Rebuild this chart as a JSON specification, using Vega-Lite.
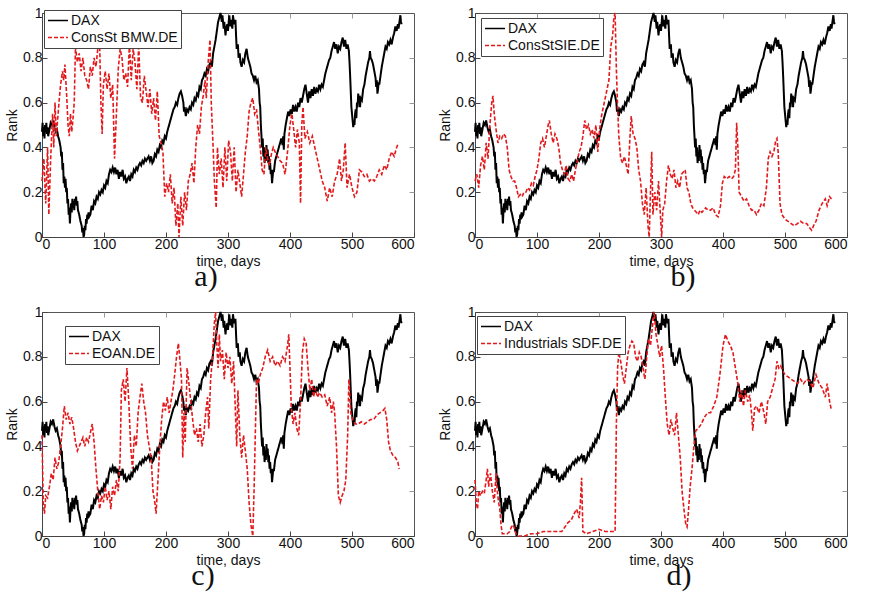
{
  "$schema": "https://vega.github.io/schema/vega-lite/v6.json",
  "padding": {"left": 5, "top": 5, "right": 5, "bottom": 5},
  "background": "white",
  "config": {
    "view": {"stroke": "#555", "strokeWidth": 1},
    "font": "Liberation Sans",
    "axis": {"labelFont": "Liberation Sans", "labelFontSize": 14, "labelColor": "#111", "titleFont": "Liberation Sans", "titleFontSize": 14, "titleFontWeight": "normal", "titleColor": "#111", "grid": false, "domainColor": "#444", "tickColor": "#444", "tickSize": -5, "labelPadding": 5},
    "legend": {"title": null, "orient": "none", "symbolType": "stroke", "symbolSize": 400, "symbolStrokeWidth": 1.7, "labelFont": "Liberation Sans", "labelFontSize": 14, "labelColor": "#111", "labelOffset": 2, "padding": 3, "rowPadding": 2, "clipHeight": 15, "fillColor": "white", "strokeColor": "#444"}
  },
  "datasets": {
    "dax": [{"t":0,"v":0.47},{"t":1,"v":0.51},{"t":2,"v":0.45},{"t":3,"v":0.49},{"t":4,"v":0.44},{"t":5,"v":0.5},{"t":6,"v":0.47},{"t":7,"v":0.51},{"t":8,"v":0.46},{"t":9,"v":0.49},{"t":10,"v":0.45},{"t":12,"v":0.48},{"t":14,"v":0.51},{"t":16,"v":0.5},{"t":18,"v":0.52},{"t":20,"v":0.49},{"t":22,"v":0.47},{"t":24,"v":0.48},{"t":26,"v":0.45},{"t":28,"v":0.43},{"t":30,"v":0.4},{"t":31,"v":0.36},{"t":32,"v":0.38},{"t":33,"v":0.3},{"t":34,"v":0.33},{"t":35,"v":0.24},{"t":36,"v":0.27},{"t":37,"v":0.22},{"t":38,"v":0.26},{"t":39,"v":0.2},{"t":40,"v":0.22},{"t":41,"v":0.15},{"t":42,"v":0.17},{"t":43,"v":0.1},{"t":44,"v":0.13},{"t":45,"v":0.06},{"t":46,"v":0.12},{"t":47,"v":0.15},{"t":48,"v":0.11},{"t":49,"v":0.17},{"t":50,"v":0.13},{"t":51,"v":0.16},{"t":52,"v":0.12},{"t":53,"v":0.17},{"t":54,"v":0.15},{"t":55,"v":0.18},{"t":56,"v":0.14},{"t":57,"v":0.16},{"t":58,"v":0.12},{"t":60,"v":0.1},{"t":62,"v":0.07},{"t":64,"v":0.05},{"t":65,"v":0.02},{"t":66,"v":0.04},{"t":67,"v":0.0},{"t":68,"v":0.01},{"t":69,"v":0.05},{"t":70,"v":0.03},{"t":71,"v":0.08},{"t":72,"v":0.06},{"t":73,"v":0.1},{"t":74,"v":0.08},{"t":75,"v":0.11},{"t":76,"v":0.09},{"t":78,"v":0.1},{"t":80,"v":0.14},{"t":82,"v":0.12},{"t":84,"v":0.16},{"t":86,"v":0.15},{"t":88,"v":0.18},{"t":90,"v":0.17},{"t":92,"v":0.2},{"t":94,"v":0.19},{"t":96,"v":0.21},{"t":98,"v":0.2},{"t":100,"v":0.23},{"t":102,"v":0.22},{"t":104,"v":0.25},{"t":106,"v":0.24},{"t":108,"v":0.28},{"t":110,"v":0.3},{"t":112,"v":0.29},{"t":114,"v":0.31},{"t":116,"v":0.29},{"t":118,"v":0.31},{"t":120,"v":0.28},{"t":122,"v":0.3},{"t":124,"v":0.26},{"t":126,"v":0.29},{"t":128,"v":0.27},{"t":130,"v":0.3},{"t":132,"v":0.26},{"t":134,"v":0.27},{"t":136,"v":0.24},{"t":138,"v":0.26},{"t":140,"v":0.27},{"t":142,"v":0.25},{"t":144,"v":0.28},{"t":146,"v":0.27},{"t":148,"v":0.3},{"t":150,"v":0.29},{"t":152,"v":0.31},{"t":154,"v":0.3},{"t":156,"v":0.32},{"t":158,"v":0.33},{"t":160,"v":0.32},{"t":162,"v":0.34},{"t":164,"v":0.33},{"t":166,"v":0.35},{"t":168,"v":0.34},{"t":170,"v":0.35},{"t":172,"v":0.36},{"t":174,"v":0.34},{"t":176,"v":0.36},{"t":178,"v":0.33},{"t":180,"v":0.34},{"t":182,"v":0.37},{"t":184,"v":0.36},{"t":186,"v":0.39},{"t":188,"v":0.38},{"t":190,"v":0.41},{"t":192,"v":0.4},{"t":194,"v":0.43},{"t":196,"v":0.42},{"t":198,"v":0.45},{"t":200,"v":0.44},{"t":202,"v":0.47},{"t":204,"v":0.49},{"t":206,"v":0.51},{"t":208,"v":0.53},{"t":210,"v":0.55},{"t":212,"v":0.57},{"t":214,"v":0.58},{"t":216,"v":0.6},{"t":218,"v":0.59},{"t":220,"v":0.62},{"t":222,"v":0.64},{"t":224,"v":0.65},{"t":226,"v":0.63},{"t":228,"v":0.6},{"t":229,"v":0.56},{"t":230,"v":0.58},{"t":232,"v":0.54},{"t":234,"v":0.57},{"t":236,"v":0.56},{"t":238,"v":0.58},{"t":240,"v":0.57},{"t":242,"v":0.6},{"t":244,"v":0.59},{"t":246,"v":0.62},{"t":248,"v":0.61},{"t":250,"v":0.64},{"t":252,"v":0.63},{"t":254,"v":0.67},{"t":256,"v":0.66},{"t":258,"v":0.7},{"t":260,"v":0.71},{"t":262,"v":0.73},{"t":264,"v":0.72},{"t":266,"v":0.75},{"t":268,"v":0.74},{"t":270,"v":0.77},{"t":272,"v":0.78},{"t":274,"v":0.76},{"t":276,"v":0.82},{"t":278,"v":0.85},{"t":280,"v":0.88},{"t":282,"v":0.92},{"t":284,"v":0.96},{"t":286,"v":0.98},{"t":288,"v":1.0},{"t":290,"v":0.96},{"t":291,"v":0.99},{"t":293,"v":0.93},{"t":294,"v":0.96},{"t":296,"v":0.9},{"t":297,"v":0.93},{"t":299,"v":0.95},{"t":300,"v":0.92},{"t":302,"v":0.99},{"t":304,"v":0.94},{"t":305,"v":0.97},{"t":307,"v":0.93},{"t":308,"v":0.99},{"t":310,"v":0.95},{"t":312,"v":0.97},{"t":313,"v":0.9},{"t":314,"v":0.84},{"t":316,"v":0.86},{"t":317,"v":0.8},{"t":319,"v":0.82},{"t":320,"v":0.78},{"t":322,"v":0.76},{"t":324,"v":0.79},{"t":326,"v":0.78},{"t":328,"v":0.82},{"t":330,"v":0.84},{"t":332,"v":0.8},{"t":334,"v":0.78},{"t":336,"v":0.76},{"t":338,"v":0.73},{"t":340,"v":0.72},{"t":342,"v":0.7},{"t":344,"v":0.72},{"t":346,"v":0.69},{"t":348,"v":0.7},{"t":350,"v":0.66},{"t":351,"v":0.6},{"t":352,"v":0.58},{"t":353,"v":0.5},{"t":354,"v":0.45},{"t":355,"v":0.4},{"t":356,"v":0.44},{"t":357,"v":0.36},{"t":358,"v":0.4},{"t":359,"v":0.33},{"t":360,"v":0.38},{"t":361,"v":0.34},{"t":362,"v":0.41},{"t":363,"v":0.36},{"t":364,"v":0.39},{"t":365,"v":0.33},{"t":366,"v":0.36},{"t":367,"v":0.3},{"t":368,"v":0.33},{"t":369,"v":0.28},{"t":370,"v":0.3},{"t":371,"v":0.24},{"t":372,"v":0.27},{"t":373,"v":0.3},{"t":374,"v":0.29},{"t":376,"v":0.34},{"t":378,"v":0.36},{"t":380,"v":0.38},{"t":382,"v":0.4},{"t":384,"v":0.42},{"t":386,"v":0.44},{"t":388,"v":0.41},{"t":389,"v":0.45},{"t":390,"v":0.39},{"t":391,"v":0.46},{"t":393,"v":0.5},{"t":395,"v":0.53},{"t":397,"v":0.56},{"t":399,"v":0.54},{"t":401,"v":0.57},{"t":403,"v":0.55},{"t":405,"v":0.59},{"t":407,"v":0.56},{"t":409,"v":0.58},{"t":411,"v":0.56},{"t":413,"v":0.6},{"t":415,"v":0.58},{"t":417,"v":0.62},{"t":419,"v":0.6},{"t":421,"v":0.63},{"t":423,"v":0.66},{"t":425,"v":0.68},{"t":427,"v":0.64},{"t":429,"v":0.6},{"t":431,"v":0.65},{"t":433,"v":0.62},{"t":435,"v":0.66},{"t":437,"v":0.63},{"t":439,"v":0.67},{"t":441,"v":0.64},{"t":443,"v":0.66},{"t":445,"v":0.65},{"t":447,"v":0.68},{"t":449,"v":0.66},{"t":451,"v":0.68},{"t":453,"v":0.67},{"t":455,"v":0.7},{"t":457,"v":0.73},{"t":459,"v":0.75},{"t":461,"v":0.77},{"t":463,"v":0.79},{"t":465,"v":0.8},{"t":467,"v":0.83},{"t":469,"v":0.85},{"t":471,"v":0.87},{"t":473,"v":0.84},{"t":475,"v":0.86},{"t":477,"v":0.82},{"t":479,"v":0.85},{"t":481,"v":0.84},{"t":483,"v":0.87},{"t":485,"v":0.89},{"t":487,"v":0.85},{"t":489,"v":0.88},{"t":491,"v":0.84},{"t":493,"v":0.86},{"t":495,"v":0.83},{"t":496,"v":0.78},{"t":497,"v":0.72},{"t":498,"v":0.65},{"t":499,"v":0.58},{"t":500,"v":0.55},{"t":501,"v":0.52},{"t":502,"v":0.49},{"t":503,"v":0.52},{"t":504,"v":0.5},{"t":505,"v":0.55},{"t":506,"v":0.57},{"t":507,"v":0.53},{"t":508,"v":0.6},{"t":509,"v":0.58},{"t":510,"v":0.64},{"t":511,"v":0.6},{"t":512,"v":0.63},{"t":513,"v":0.58},{"t":514,"v":0.62},{"t":516,"v":0.61},{"t":518,"v":0.66},{"t":520,"v":0.68},{"t":522,"v":0.72},{"t":524,"v":0.75},{"t":526,"v":0.78},{"t":528,"v":0.8},{"t":529,"v":0.83},{"t":530,"v":0.8},{"t":532,"v":0.79},{"t":534,"v":0.77},{"t":536,"v":0.74},{"t":538,"v":0.71},{"t":539,"v":0.67},{"t":540,"v":0.7},{"t":541,"v":0.64},{"t":542,"v":0.66},{"t":543,"v":0.69},{"t":544,"v":0.68},{"t":546,"v":0.72},{"t":548,"v":0.76},{"t":550,"v":0.79},{"t":552,"v":0.82},{"t":554,"v":0.85},{"t":556,"v":0.84},{"t":558,"v":0.87},{"t":560,"v":0.86},{"t":562,"v":0.88},{"t":564,"v":0.86},{"t":566,"v":0.89},{"t":568,"v":0.91},{"t":570,"v":0.94},{"t":572,"v":0.92},{"t":574,"v":0.95},{"t":575,"v":0.93},{"t":577,"v":0.97},{"t":578,"v":0.99},{"t":579,"v":0.96},{"t":580,"v":0.95}],
    "bmw": [{"t":0,"v":0.25},{"t":3,"v":0.35},{"t":6,"v":0.15},{"t":9,"v":0.4},{"t":11,"v":0.1},{"t":14,"v":0.35},{"t":17,"v":0.55},{"t":19,"v":0.4},{"t":21,"v":0.6},{"t":23,"v":0.45},{"t":26,"v":0.55},{"t":28,"v":0.62},{"t":30,"v":0.68},{"t":33,"v":0.74},{"t":35,"v":0.7},{"t":37,"v":0.77},{"t":40,"v":0.62},{"t":42,"v":0.5},{"t":44,"v":0.45},{"t":46,"v":0.55},{"t":48,"v":0.47},{"t":50,"v":0.53},{"t":52,"v":0.6},{"t":54,"v":0.85},{"t":57,"v":0.78},{"t":60,"v":0.82},{"t":63,"v":0.74},{"t":66,"v":0.8},{"t":69,"v":0.72},{"t":72,"v":0.7},{"t":75,"v":0.66},{"t":78,"v":0.76},{"t":81,"v":0.72},{"t":84,"v":0.8},{"t":87,"v":0.76},{"t":90,"v":0.84},{"t":93,"v":0.86},{"t":95,"v":0.6},{"t":97,"v":0.46},{"t":99,"v":0.68},{"t":102,"v":0.74},{"t":105,"v":0.66},{"t":108,"v":0.73},{"t":111,"v":0.62},{"t":114,"v":0.68},{"t":117,"v":0.35},{"t":120,"v":0.55},{"t":123,"v":0.75},{"t":126,"v":0.84},{"t":129,"v":0.8},{"t":132,"v":0.7},{"t":135,"v":0.73},{"t":138,"v":0.67},{"t":141,"v":0.86},{"t":144,"v":0.7},{"t":147,"v":0.84},{"t":150,"v":0.78},{"t":153,"v":0.66},{"t":156,"v":0.86},{"t":159,"v":0.62},{"t":162,"v":0.6},{"t":165,"v":0.72},{"t":168,"v":0.65},{"t":171,"v":0.58},{"t":174,"v":0.66},{"t":177,"v":0.55},{"t":180,"v":0.62},{"t":183,"v":0.52},{"t":186,"v":0.65},{"t":189,"v":0.45},{"t":192,"v":0.42},{"t":195,"v":0.38},{"t":198,"v":0.18},{"t":201,"v":0.24},{"t":204,"v":0.2},{"t":207,"v":0.28},{"t":210,"v":0.15},{"t":213,"v":0.22},{"t":216,"v":0.05},{"t":219,"v":0.15},{"t":221,"v":0.0},{"t":224,"v":0.18},{"t":227,"v":0.05},{"t":230,"v":0.2},{"t":233,"v":0.12},{"t":236,"v":0.25},{"t":239,"v":0.28},{"t":242,"v":0.33},{"t":245,"v":0.24},{"t":248,"v":0.4},{"t":251,"v":0.5},{"t":254,"v":0.46},{"t":257,"v":0.58},{"t":260,"v":0.63},{"t":263,"v":0.7},{"t":265,"v":0.62},{"t":268,"v":0.78},{"t":271,"v":0.88},{"t":273,"v":0.6},{"t":276,"v":0.4},{"t":278,"v":0.25},{"t":281,"v":0.13},{"t":283,"v":0.4},{"t":286,"v":0.28},{"t":289,"v":0.35},{"t":292,"v":0.22},{"t":295,"v":0.4},{"t":298,"v":0.25},{"t":301,"v":0.43},{"t":304,"v":0.38},{"t":307,"v":0.25},{"t":310,"v":0.4},{"t":313,"v":0.2},{"t":316,"v":0.3},{"t":319,"v":0.24},{"t":322,"v":0.18},{"t":325,"v":0.28},{"t":328,"v":0.38},{"t":331,"v":0.45},{"t":334,"v":0.56},{"t":337,"v":0.6},{"t":340,"v":0.62},{"t":343,"v":0.55},{"t":346,"v":0.57},{"t":349,"v":0.48},{"t":352,"v":0.4},{"t":355,"v":0.3},{"t":358,"v":0.28},{"t":361,"v":0.4},{"t":364,"v":0.35},{"t":367,"v":0.32},{"t":370,"v":0.37},{"t":373,"v":0.4},{"t":376,"v":0.38},{"t":380,"v":0.36},{"t":384,"v":0.34},{"t":388,"v":0.33},{"t":392,"v":0.28},{"t":396,"v":0.38},{"t":400,"v":0.5},{"t":403,"v":0.55},{"t":406,"v":0.48},{"t":409,"v":0.4},{"t":412,"v":0.48},{"t":415,"v":0.42},{"t":417,"v":0.15},{"t":419,"v":0.5},{"t":421,"v":0.58},{"t":424,"v":0.44},{"t":428,"v":0.47},{"t":432,"v":0.42},{"t":436,"v":0.45},{"t":440,"v":0.4},{"t":444,"v":0.35},{"t":448,"v":0.3},{"t":452,"v":0.25},{"t":456,"v":0.22},{"t":460,"v":0.16},{"t":464,"v":0.22},{"t":468,"v":0.18},{"t":472,"v":0.25},{"t":476,"v":0.28},{"t":480,"v":0.35},{"t":483,"v":0.25},{"t":486,"v":0.3},{"t":489,"v":0.42},{"t":492,"v":0.22},{"t":496,"v":0.28},{"t":500,"v":0.22},{"t":504,"v":0.18},{"t":508,"v":0.2},{"t":512,"v":0.3},{"t":516,"v":0.29},{"t":520,"v":0.27},{"t":524,"v":0.28},{"t":528,"v":0.25},{"t":532,"v":0.26},{"t":536,"v":0.25},{"t":540,"v":0.27},{"t":544,"v":0.3},{"t":548,"v":0.28},{"t":552,"v":0.32},{"t":556,"v":0.3},{"t":560,"v":0.35},{"t":564,"v":0.38},{"t":568,"v":0.36},{"t":572,"v":0.4},{"t":575,"v":0.42}],
    "sie": [{"t":0,"v":0.25},{"t":3,"v":0.28},{"t":6,"v":0.22},{"t":9,"v":0.32},{"t":12,"v":0.36},{"t":15,"v":0.3},{"t":18,"v":0.42},{"t":21,"v":0.35},{"t":24,"v":0.5},{"t":27,"v":0.6},{"t":29,"v":0.63},{"t":31,"v":0.55},{"t":34,"v":0.48},{"t":37,"v":0.42},{"t":40,"v":0.45},{"t":43,"v":0.44},{"t":46,"v":0.46},{"t":49,"v":0.45},{"t":52,"v":0.4},{"t":55,"v":0.3},{"t":58,"v":0.27},{"t":61,"v":0.25},{"t":64,"v":0.25},{"t":67,"v":0.22},{"t":70,"v":0.18},{"t":73,"v":0.19},{"t":76,"v":0.18},{"t":79,"v":0.2},{"t":82,"v":0.2},{"t":85,"v":0.22},{"t":88,"v":0.21},{"t":91,"v":0.24},{"t":94,"v":0.23},{"t":97,"v":0.27},{"t":100,"v":0.3},{"t":103,"v":0.35},{"t":106,"v":0.42},{"t":109,"v":0.44},{"t":112,"v":0.4},{"t":115,"v":0.45},{"t":118,"v":0.5},{"t":120,"v":0.52},{"t":123,"v":0.46},{"t":126,"v":0.42},{"t":129,"v":0.46},{"t":132,"v":0.44},{"t":135,"v":0.4},{"t":138,"v":0.33},{"t":141,"v":0.3},{"t":144,"v":0.28},{"t":147,"v":0.32},{"t":150,"v":0.26},{"t":153,"v":0.25},{"t":156,"v":0.28},{"t":159,"v":0.25},{"t":162,"v":0.3},{"t":165,"v":0.34},{"t":168,"v":0.38},{"t":171,"v":0.4},{"t":174,"v":0.45},{"t":177,"v":0.52},{"t":180,"v":0.48},{"t":183,"v":0.5},{"t":186,"v":0.46},{"t":189,"v":0.48},{"t":192,"v":0.44},{"t":195,"v":0.5},{"t":198,"v":0.38},{"t":201,"v":0.48},{"t":204,"v":0.54},{"t":207,"v":0.58},{"t":210,"v":0.62},{"t":213,"v":0.66},{"t":216,"v":0.7},{"t":219,"v":0.85},{"t":222,"v":0.9},{"t":224,"v":0.98},{"t":226,"v":1.0},{"t":228,"v":0.75},{"t":230,"v":0.58},{"t":232,"v":0.45},{"t":235,"v":0.35},{"t":238,"v":0.33},{"t":241,"v":0.36},{"t":244,"v":0.32},{"t":247,"v":0.28},{"t":250,"v":0.45},{"t":252,"v":0.54},{"t":255,"v":0.46},{"t":258,"v":0.44},{"t":261,"v":0.4},{"t":264,"v":0.3},{"t":267,"v":0.25},{"t":270,"v":0.15},{"t":273,"v":0.1},{"t":276,"v":0.22},{"t":279,"v":0.05},{"t":281,"v":0.0},{"t":283,"v":0.2},{"t":285,"v":0.38},{"t":287,"v":0.1},{"t":290,"v":0.2},{"t":293,"v":0.12},{"t":296,"v":0.25},{"t":299,"v":0.1},{"t":301,"v":0.0},{"t":303,"v":0.12},{"t":306,"v":0.15},{"t":309,"v":0.25},{"t":312,"v":0.32},{"t":315,"v":0.28},{"t":318,"v":0.26},{"t":321,"v":0.3},{"t":324,"v":0.22},{"t":327,"v":0.25},{"t":330,"v":0.22},{"t":333,"v":0.28},{"t":336,"v":0.29},{"t":339,"v":0.3},{"t":342,"v":0.22},{"t":345,"v":0.2},{"t":348,"v":0.15},{"t":351,"v":0.13},{"t":354,"v":0.12},{"t":357,"v":0.11},{"t":360,"v":0.1},{"t":363,"v":0.12},{"t":366,"v":0.11},{"t":369,"v":0.12},{"t":372,"v":0.13},{"t":376,"v":0.12},{"t":380,"v":0.12},{"t":384,"v":0.13},{"t":388,"v":0.1},{"t":392,"v":0.09},{"t":396,"v":0.14},{"t":399,"v":0.24},{"t":402,"v":0.27},{"t":406,"v":0.26},{"t":410,"v":0.27},{"t":414,"v":0.26},{"t":417,"v":0.27},{"t":420,"v":0.3},{"t":422,"v":0.51},{"t":424,"v":0.4},{"t":426,"v":0.2},{"t":430,"v":0.18},{"t":434,"v":0.16},{"t":438,"v":0.17},{"t":442,"v":0.14},{"t":446,"v":0.12},{"t":450,"v":0.12},{"t":454,"v":0.1},{"t":458,"v":0.12},{"t":462,"v":0.15},{"t":466,"v":0.14},{"t":470,"v":0.22},{"t":473,"v":0.35},{"t":476,"v":0.38},{"t":479,"v":0.36},{"t":482,"v":0.38},{"t":485,"v":0.43},{"t":487,"v":0.44},{"t":489,"v":0.38},{"t":492,"v":0.15},{"t":495,"v":0.1},{"t":500,"v":0.08},{"t":505,"v":0.07},{"t":510,"v":0.06},{"t":515,"v":0.05},{"t":520,"v":0.06},{"t":525,"v":0.07},{"t":530,"v":0.06},{"t":535,"v":0.06},{"t":540,"v":0.04},{"t":543,"v":0.03},{"t":546,"v":0.05},{"t":550,"v":0.07},{"t":555,"v":0.12},{"t":560,"v":0.15},{"t":565,"v":0.17},{"t":568,"v":0.14},{"t":572,"v":0.18},{"t":575,"v":0.17}],
    "eoan": [{"t":0,"v":0.45},{"t":2,"v":0.15},{"t":4,"v":0.1},{"t":6,"v":0.18},{"t":9,"v":0.17},{"t":12,"v":0.22},{"t":15,"v":0.28},{"t":18,"v":0.25},{"t":21,"v":0.35},{"t":24,"v":0.3},{"t":27,"v":0.33},{"t":30,"v":0.4},{"t":33,"v":0.48},{"t":36,"v":0.58},{"t":39,"v":0.52},{"t":42,"v":0.55},{"t":45,"v":0.5},{"t":48,"v":0.53},{"t":51,"v":0.48},{"t":54,"v":0.42},{"t":57,"v":0.38},{"t":60,"v":0.4},{"t":63,"v":0.42},{"t":66,"v":0.44},{"t":69,"v":0.4},{"t":72,"v":0.44},{"t":75,"v":0.42},{"t":78,"v":0.46},{"t":81,"v":0.5},{"t":84,"v":0.42},{"t":87,"v":0.3},{"t":90,"v":0.2},{"t":93,"v":0.12},{"t":96,"v":0.18},{"t":99,"v":0.15},{"t":102,"v":0.22},{"t":105,"v":0.16},{"t":108,"v":0.2},{"t":111,"v":0.12},{"t":114,"v":0.22},{"t":117,"v":0.18},{"t":120,"v":0.25},{"t":123,"v":0.2},{"t":126,"v":0.35},{"t":128,"v":0.65},{"t":131,"v":0.7},{"t":134,"v":0.6},{"t":137,"v":0.75},{"t":140,"v":0.6},{"t":143,"v":0.4},{"t":146,"v":0.3},{"t":149,"v":0.45},{"t":152,"v":0.4},{"t":155,"v":0.55},{"t":158,"v":0.62},{"t":161,"v":0.68},{"t":164,"v":0.6},{"t":167,"v":0.55},{"t":170,"v":0.45},{"t":173,"v":0.4},{"t":176,"v":0.35},{"t":179,"v":0.2},{"t":182,"v":0.15},{"t":184,"v":0.1},{"t":187,"v":0.25},{"t":190,"v":0.4},{"t":193,"v":0.52},{"t":196,"v":0.6},{"t":199,"v":0.56},{"t":202,"v":0.62},{"t":205,"v":0.55},{"t":208,"v":0.6},{"t":211,"v":0.65},{"t":214,"v":0.72},{"t":217,"v":0.8},{"t":220,"v":0.86},{"t":222,"v":0.8},{"t":225,"v":0.7},{"t":227,"v":0.35},{"t":229,"v":0.55},{"t":231,"v":0.42},{"t":234,"v":0.75},{"t":237,"v":0.68},{"t":240,"v":0.6},{"t":243,"v":0.52},{"t":246,"v":0.45},{"t":249,"v":0.48},{"t":252,"v":0.42},{"t":255,"v":0.5},{"t":258,"v":0.4},{"t":261,"v":0.45},{"t":264,"v":0.55},{"t":267,"v":0.62},{"t":269,"v":0.48},{"t":272,"v":0.7},{"t":275,"v":0.8},{"t":278,"v":0.95},{"t":280,"v":1.0},{"t":282,"v":0.85},{"t":284,"v":0.75},{"t":286,"v":0.9},{"t":288,"v":0.78},{"t":291,"v":0.83},{"t":294,"v":0.7},{"t":297,"v":0.82},{"t":300,"v":0.75},{"t":303,"v":0.8},{"t":306,"v":0.68},{"t":309,"v":0.78},{"t":312,"v":0.55},{"t":314,"v":0.4},{"t":316,"v":0.65},{"t":319,"v":0.45},{"t":322,"v":0.35},{"t":325,"v":0.45},{"t":328,"v":0.38},{"t":331,"v":0.3},{"t":334,"v":0.15},{"t":337,"v":0.05},{"t":340,"v":0.0},{"t":342,"v":0.2},{"t":344,"v":0.45},{"t":346,"v":0.7},{"t":349,"v":0.68},{"t":352,"v":0.72},{"t":356,"v":0.75},{"t":360,"v":0.8},{"t":364,"v":0.83},{"t":368,"v":0.78},{"t":372,"v":0.8},{"t":376,"v":0.76},{"t":380,"v":0.78},{"t":384,"v":0.76},{"t":388,"v":0.8},{"t":392,"v":0.78},{"t":396,"v":0.85},{"t":398,"v":0.9},{"t":400,"v":0.75},{"t":402,"v":0.58},{"t":405,"v":0.5},{"t":408,"v":0.55},{"t":411,"v":0.48},{"t":414,"v":0.45},{"t":417,"v":0.6},{"t":420,"v":0.82},{"t":423,"v":0.88},{"t":426,"v":0.86},{"t":429,"v":0.75},{"t":432,"v":0.65},{"t":435,"v":0.7},{"t":438,"v":0.62},{"t":441,"v":0.66},{"t":444,"v":0.62},{"t":448,"v":0.64},{"t":452,"v":0.62},{"t":456,"v":0.63},{"t":460,"v":0.58},{"t":464,"v":0.62},{"t":467,"v":0.55},{"t":470,"v":0.6},{"t":472,"v":0.55},{"t":475,"v":0.4},{"t":478,"v":0.18},{"t":481,"v":0.15},{"t":484,"v":0.18},{"t":487,"v":0.2},{"t":490,"v":0.25},{"t":493,"v":0.45},{"t":495,"v":0.7},{"t":498,"v":0.55},{"t":501,"v":0.52},{"t":505,"v":0.5},{"t":510,"v":0.5},{"t":515,"v":0.51},{"t":520,"v":0.5},{"t":525,"v":0.51},{"t":530,"v":0.52},{"t":535,"v":0.52},{"t":540,"v":0.54},{"t":545,"v":0.55},{"t":550,"v":0.56},{"t":553,"v":0.57},{"t":556,"v":0.52},{"t":559,"v":0.42},{"t":562,"v":0.38},{"t":566,"v":0.36},{"t":570,"v":0.35},{"t":574,"v":0.33},{"t":576,"v":0.3}],
    "sdf": [{"t":0,"v":0.25},{"t":2,"v":0.15},{"t":4,"v":0.12},{"t":6,"v":0.2},{"t":9,"v":0.18},{"t":12,"v":0.2},{"t":15,"v":0.19},{"t":18,"v":0.25},{"t":20,"v":0.3},{"t":22,"v":0.22},{"t":25,"v":0.28},{"t":28,"v":0.2},{"t":31,"v":0.15},{"t":34,"v":0.28},{"t":36,"v":0.2},{"t":38,"v":0.15},{"t":40,"v":0.12},{"t":42,"v":0.05},{"t":44,"v":0.01},{"t":48,"v":0.01},{"t":52,"v":0.01},{"t":56,"v":0.02},{"t":60,"v":0.05},{"t":63,"v":0.04},{"t":66,"v":0.01},{"t":70,"v":0.0},{"t":80,"v":0.0},{"t":90,"v":0.01},{"t":100,"v":0.01},{"t":110,"v":0.02},{"t":120,"v":0.02},{"t":130,"v":0.02},{"t":140,"v":0.02},{"t":145,"v":0.04},{"t":150,"v":0.06},{"t":155,"v":0.07},{"t":160,"v":0.1},{"t":164,"v":0.12},{"t":168,"v":0.08},{"t":170,"v":0.15},{"t":172,"v":0.26},{"t":174,"v":0.02},{"t":180,"v":0.01},{"t":190,"v":0.02},{"t":200,"v":0.03},{"t":210,"v":0.02},{"t":220,"v":0.02},{"t":226,"v":0.02},{"t":228,"v":0.5},{"t":230,"v":0.75},{"t":232,"v":0.82},{"t":235,"v":0.78},{"t":238,"v":0.72},{"t":241,"v":0.68},{"t":244,"v":0.75},{"t":247,"v":0.82},{"t":250,"v":0.85},{"t":253,"v":0.87},{"t":256,"v":0.86},{"t":259,"v":0.8},{"t":262,"v":0.78},{"t":265,"v":0.82},{"t":268,"v":0.8},{"t":271,"v":0.75},{"t":274,"v":0.7},{"t":277,"v":0.8},{"t":280,"v":0.88},{"t":283,"v":0.85},{"t":286,"v":0.93},{"t":289,"v":1.0},{"t":292,"v":0.9},{"t":295,"v":0.85},{"t":298,"v":0.8},{"t":301,"v":0.85},{"t":304,"v":0.75},{"t":307,"v":0.62},{"t":310,"v":0.5},{"t":313,"v":0.45},{"t":316,"v":0.52},{"t":319,"v":0.48},{"t":322,"v":0.45},{"t":325,"v":0.55},{"t":328,"v":0.45},{"t":331,"v":0.35},{"t":334,"v":0.2},{"t":337,"v":0.12},{"t":340,"v":0.05},{"t":342,"v":0.04},{"t":344,"v":0.1},{"t":347,"v":0.22},{"t":350,"v":0.3},{"t":353,"v":0.4},{"t":356,"v":0.47},{"t":360,"v":0.48},{"t":365,"v":0.5},{"t":370,"v":0.53},{"t":375,"v":0.55},{"t":380,"v":0.55},{"t":385,"v":0.58},{"t":390,"v":0.62},{"t":395,"v":0.72},{"t":400,"v":0.85},{"t":404,"v":0.9},{"t":408,"v":0.87},{"t":412,"v":0.85},{"t":416,"v":0.82},{"t":420,"v":0.75},{"t":424,"v":0.68},{"t":427,"v":0.6},{"t":430,"v":0.65},{"t":433,"v":0.58},{"t":436,"v":0.65},{"t":440,"v":0.6},{"t":443,"v":0.63},{"t":446,"v":0.55},{"t":448,"v":0.47},{"t":451,"v":0.57},{"t":454,"v":0.58},{"t":458,"v":0.55},{"t":462,"v":0.6},{"t":466,"v":0.55},{"t":469,"v":0.5},{"t":472,"v":0.6},{"t":476,"v":0.62},{"t":480,"v":0.66},{"t":484,"v":0.7},{"t":487,"v":0.78},{"t":490,"v":0.75},{"t":493,"v":0.76},{"t":496,"v":0.74},{"t":500,"v":0.72},{"t":505,"v":0.71},{"t":510,"v":0.7},{"t":515,"v":0.69},{"t":520,"v":0.68},{"t":525,"v":0.7},{"t":530,"v":0.68},{"t":535,"v":0.7},{"t":540,"v":0.69},{"t":545,"v":0.66},{"t":550,"v":0.72},{"t":555,"v":0.68},{"t":560,"v":0.66},{"t":565,"v":0.62},{"t":568,"v":0.68},{"t":572,"v":0.6},{"t":575,"v":0.56}]
  },
  "columns": 2,
  "spacing": {"row": 75, "column": 61},
  "bounds": "flush",
  "resolve": {"scale": {"color": "independent", "strokeDash": "independent"}, "legend": {"color": "independent", "strokeDash": "independent"}},
  "concat": [
    {
      "width": 372, "height": 224,
      "title": {"text": "a)", "orient": "bottom", "font": "Liberation Serif", "fontSize": 30, "fontWeight": "normal", "color": "#111", "dx": -22, "offset": -6},
      "resolve": {"axis": {"x": "independent", "y": "independent"}},
      "layer": [
        {"data": {"name": "dax"}, "mark": {"type": "line", "strokeWidth": 2},
         "encoding": {
           "x": {"field": "t", "type": "quantitative", "scale": {"domain": [0, 600], "nice": false}, "axis": {"values": [0,100,200,300,400,500,600], "title": "time, days", "titlePadding": 3}},
           "y": {"field": "v", "type": "quantitative", "scale": {"domain": [0, 1], "nice": false}, "axis": {"values": [0,0.2,0.4,0.6,0.8,1], "format": "~g", "title": "Rank", "titlePadding": 3}},
           "color": {"datum": "DAX", "scale": {"domain": ["DAX", "ConsSt BMW.DE"], "range": ["#000000", "#e3191c"]}, "legend": {"legendX": 2, "legendY": -3}},
           "strokeDash": {"datum": "DAX", "scale": {"domain": ["DAX", "ConsSt BMW.DE"], "range": [[1, 0], [4, 2]]}, "legend": {"legendX": 2, "legendY": -3}}
         }},
        {"data": {"name": "bmw"}, "mark": {"type": "line", "strokeWidth": 1.6},
         "encoding": {
           "x": {"field": "t", "type": "quantitative", "axis": {"orient": "top", "values": [100,200,300,400,500], "labels": false, "title": null, "domain": false, "tickColor": "#999"}},
           "y": {"field": "v", "type": "quantitative", "axis": {"orient": "right", "values": [0.2,0.4,0.6,0.8], "labels": false, "title": null, "domain": false, "tickColor": "#999"}},
           "color": {"datum": "ConsSt BMW.DE"},
           "strokeDash": {"datum": "ConsSt BMW.DE"}
         }}
      ]
    },
    {
      "width": 372, "height": 224,
      "title": {"text": "b)", "orient": "bottom", "font": "Liberation Serif", "fontSize": 30, "fontWeight": "normal", "color": "#111", "dx": 22, "offset": -6},
      "resolve": {"axis": {"x": "independent", "y": "independent"}},
      "layer": [
        {"data": {"name": "dax"}, "mark": {"type": "line", "strokeWidth": 2},
         "encoding": {
           "x": {"field": "t", "type": "quantitative", "scale": {"domain": [0, 600], "nice": false}, "axis": {"values": [0,100,200,300,400,500,600], "title": "time, days", "titlePadding": 3}},
           "y": {"field": "v", "type": "quantitative", "scale": {"domain": [0, 1], "nice": false}, "axis": {"values": [0,0.2,0.4,0.6,0.8,1], "format": "~g", "title": "Rank", "titlePadding": 3}},
           "color": {"datum": "DAX", "scale": {"domain": ["DAX", "ConsStSIE.DE"], "range": ["#000000", "#e3191c"]}, "legend": {"legendX": 6, "legendY": 5}},
           "strokeDash": {"datum": "DAX", "scale": {"domain": ["DAX", "ConsStSIE.DE"], "range": [[1, 0], [4, 2]]}, "legend": {"legendX": 6, "legendY": 5}}
         }},
        {"data": {"name": "sie"}, "mark": {"type": "line", "strokeWidth": 1.6},
         "encoding": {
           "x": {"field": "t", "type": "quantitative", "axis": {"orient": "top", "values": [100,200,300,400,500], "labels": false, "title": null, "domain": false, "tickColor": "#999"}},
           "y": {"field": "v", "type": "quantitative", "axis": {"orient": "right", "values": [0.2,0.4,0.6,0.8], "labels": false, "title": null, "domain": false, "tickColor": "#999"}},
           "color": {"datum": "ConsStSIE.DE"},
           "strokeDash": {"datum": "ConsStSIE.DE"}
         }}
      ]
    },
    {
      "width": 372, "height": 224,
      "title": {"text": "c)", "orient": "bottom", "font": "Liberation Serif", "fontSize": 30, "fontWeight": "normal", "color": "#111", "dx": -25, "offset": -6},
      "resolve": {"axis": {"x": "independent", "y": "independent"}},
      "layer": [
        {"data": {"name": "dax"}, "mark": {"type": "line", "strokeWidth": 2},
         "encoding": {
           "x": {"field": "t", "type": "quantitative", "scale": {"domain": [0, 600], "nice": false}, "axis": {"values": [0,100,200,300,400,500,600], "title": "time, days", "titlePadding": 3}},
           "y": {"field": "v", "type": "quantitative", "scale": {"domain": [0, 1], "nice": false}, "axis": {"values": [0,0.2,0.4,0.6,0.8,1], "format": "~g", "title": "Rank", "titlePadding": 3}},
           "color": {"datum": "DAX", "scale": {"domain": ["DAX", "EOAN.DE"], "range": ["#000000", "#e3191c"]}, "legend": {"legendX": 23, "legendY": 14}},
           "strokeDash": {"datum": "DAX", "scale": {"domain": ["DAX", "EOAN.DE"], "range": [[1, 0], [4, 2]]}, "legend": {"legendX": 23, "legendY": 14}}
         }},
        {"data": {"name": "eoan"}, "mark": {"type": "line", "strokeWidth": 1.6},
         "encoding": {
           "x": {"field": "t", "type": "quantitative", "axis": {"orient": "top", "values": [100,200,300,400,500], "labels": false, "title": null, "domain": false, "tickColor": "#999"}},
           "y": {"field": "v", "type": "quantitative", "axis": {"orient": "right", "values": [0.2,0.4,0.6,0.8], "labels": false, "title": null, "domain": false, "tickColor": "#999"}},
           "color": {"datum": "EOAN.DE"},
           "strokeDash": {"datum": "EOAN.DE"}
         }}
      ]
    },
    {
      "width": 372, "height": 224,
      "title": {"text": "d)", "orient": "bottom", "font": "Liberation Serif", "fontSize": 30, "fontWeight": "normal", "color": "#111", "dx": 18, "offset": -6},
      "resolve": {"axis": {"x": "independent", "y": "independent"}},
      "layer": [
        {"data": {"name": "dax"}, "mark": {"type": "line", "strokeWidth": 2},
         "encoding": {
           "x": {"field": "t", "type": "quantitative", "scale": {"domain": [0, 600], "nice": false}, "axis": {"values": [0,100,200,300,400,500,600], "title": "time, days", "titlePadding": 3}},
           "y": {"field": "v", "type": "quantitative", "scale": {"domain": [0, 1], "nice": false}, "axis": {"values": [0,0.2,0.4,0.6,0.8,1], "format": "~g", "title": "Rank", "titlePadding": 3}},
           "color": {"datum": "DAX", "scale": {"domain": ["DAX", "Industrials SDF.DE"], "range": ["#000000", "#e3191c"]}, "legend": {"legendX": 2, "legendY": 4}},
           "strokeDash": {"datum": "DAX", "scale": {"domain": ["DAX", "Industrials SDF.DE"], "range": [[1, 0], [4, 2]]}, "legend": {"legendX": 2, "legendY": 4}}
         }},
        {"data": {"name": "sdf"}, "mark": {"type": "line", "strokeWidth": 1.6},
         "encoding": {
           "x": {"field": "t", "type": "quantitative", "axis": {"orient": "top", "values": [100,200,300,400,500], "labels": false, "title": null, "domain": false, "tickColor": "#999"}},
           "y": {"field": "v", "type": "quantitative", "axis": {"orient": "right", "values": [0.2,0.4,0.6,0.8], "labels": false, "title": null, "domain": false, "tickColor": "#999"}},
           "color": {"datum": "Industrials SDF.DE"},
           "strokeDash": {"datum": "Industrials SDF.DE"}
         }}
      ]
    }
  ]
}
